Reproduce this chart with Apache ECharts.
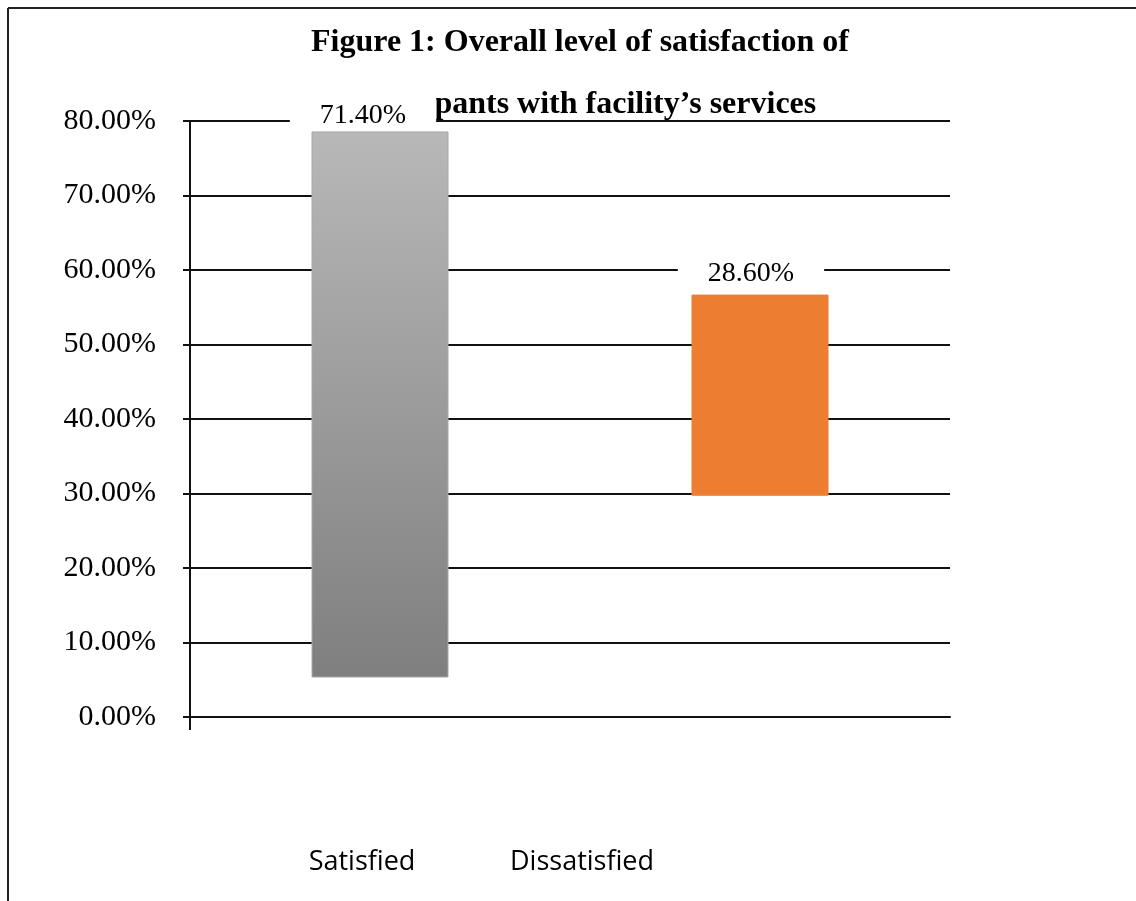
<!DOCTYPE html>
<html>
<head>
<meta charset="utf-8">
<script src="https://cdn.jsdelivr.net/npm/echarts@6/dist/echarts.min.js"></script>
<style>
  html, body { margin: 0; padding: 0; background: #fff; }
  #main { width: 1136px; height: 901px; }
</style>
</head>
<body>
<div id="main"></div>
<script>
  // data
  var categories = ['Satisfied', 'Dissatisfied'];
  var labelValues = [71.4, 28.6];      // printed data labels
  var barBottoms = [5.3, 29.7];        // where each floating bar starts
  var barTops = [78.6, 56.7];          // where each floating bar ends
  var yTicks = [0, 10, 20, 30, 40, 50, 60, 70, 80];

  var myChart = echarts.init(document.getElementById('main'));

  var serif = '"Liberation Serif", "Times New Roman", serif';

  var spans = barTops.map(function(t, i) { return +(t - barBottoms[i]).toFixed(1); });

  var barColors = [
    new echarts.graphic.LinearGradient(0, 0, 0, 1, [
      {offset: 0, color: '#b8b8b8'},
      {offset: 1, color: '#7f7f7f'}
    ]),
    '#ed7d31'
  ];
  var barBorders = ['#a8a8a8', '#ed7d31'];
  // the data labels sit a little off-centre, as in the original
  var labelLook = [
    {padding: [15, 30, 0, 30], offset: [-17, 0]},
    {padding: [8, 30, 5, 30], offset: [-9, 0]}
  ];

  var option = {
    backgroundColor: '#fff',
    animation: false,
    title: {
      text: 'Figure 1: Overall level of satisfaction of\nparticipants with facility\u2019s services',
      left: 580,
      top: 12,
      padding: 0,
      z: 1,
      textAlign: 'center',
      textStyle: {
        fontFamily: serif,
        fontWeight: 'bold',
        fontSize: 32,
        lineHeight: 62,
        color: '#000'
      }
    },
    grid: {
      left: 190,
      right: 186,
      top: 121,
      bottom: 184
    },
    xAxis: {
      type: 'category',
      data: categories,
      axisLine: {lineStyle: {color: '#111', width: 2}},
      axisTick: {show: false},
      axisLabel: {show: false}
    },
    yAxis: {
      type: 'value',
      min: yTicks[0],
      max: yTicks[yTicks.length - 1],
      interval: 10,
      axisLine: {show: true, lineStyle: {color: '#111', width: 2}},
      axisTick: {show: true, length: 7, lineStyle: {color: '#111', width: 2}},
      axisLabel: {
        margin: 34,
        fontFamily: serif,
        fontSize: 30,
        color: '#000',
        formatter: function(v) { return v.toFixed(2) + '%'; }
      },
      splitLine: {show: true, lineStyle: {color: '#111', width: 2}}
    },
    series: [
      {
        name: 'base',
        type: 'bar',
        stack: 'float',
        barWidth: 137,
        silent: true,
        itemStyle: {color: 'rgba(0,0,0,0)'},
        data: barBottoms
      },
      {
        name: 'value',
        type: 'bar',
        stack: 'float',
        barWidth: 137,
        z: 3,
        data: spans.map(function(v, i) {
          return {
            value: v,
            itemStyle: {color: barColors[i], borderColor: barBorders[i], borderWidth: 1},
            label: labelLook[i]
          };
        }),
        label: {
          show: true,
          position: 'top',
          distance: 2,
          fontFamily: serif,
          fontSize: 28,
          color: '#000',
          backgroundColor: '#fff',
          formatter: function(p) { return labelValues[p.dataIndex].toFixed(2) + '%'; }
        }
      }
    ]
  };

  myChart.setOption(option);

  // frame, category names and the small downward tick where the two axes meet
  var origin = myChart.convertToPixel({gridIndex: 0}, [0, 0]);
  var gridLeft = myChart.getModel().getComponent('grid').coordinateSystem.getRect().x;
  myChart.setOption({
    graphic: [
      {type: 'line', shape: {x1: 8, y1: 8, x2: 1136, y2: 8}, style: {stroke: '#222', lineWidth: 2}},
      {type: 'line', shape: {x1: 8, y1: 8, x2: 8, y2: 901}, style: {stroke: '#222', lineWidth: 2}},
      {type: 'line', shape: {x1: gridLeft, y1: origin[1], x2: gridLeft, y2: origin[1] + 13}, style: {stroke: '#111', lineWidth: 2}}
    ].concat(categories.map(function(c, i) {
      return {
        type: 'text',
        x: [362, 582][i],
        y: 862,
        style: {
          text: c,
          align: 'center',
          verticalAlign: 'middle',
          font: '27px "Open Sans", "Noto Sans", sans-serif',
          fill: '#000'
        }
      };
    }))
  });

  window.addEventListener('resize', function() {
    myChart.resize();
  });
</script>
</body>
</html>
